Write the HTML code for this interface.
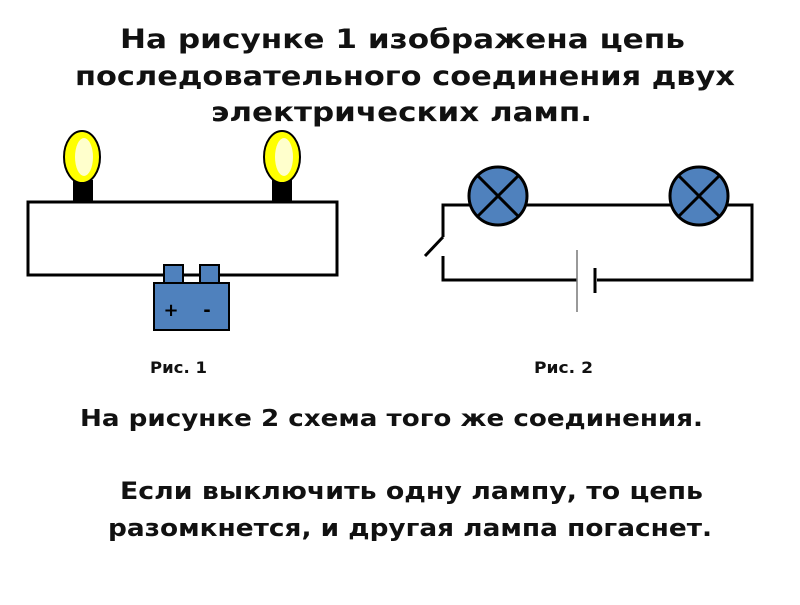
<!DOCTYPE html>
<html><head><meta charset="utf-8"><style>
body{margin:0;width:800px;height:600px;background:#fff;overflow:hidden;}
</style></head><body>
<svg width="800" height="600" xmlns="http://www.w3.org/2000/svg" font-family="DejaVu Sans, sans-serif" font-weight="bold">
<g font-size="27" fill="#111">
<text x="120" y="48" textLength="565" lengthAdjust="spacingAndGlyphs">На рисунке 1 изображена цепь</text>
<text x="75" y="85" textLength="660" lengthAdjust="spacingAndGlyphs">последовательного соединения двух</text>
<text x="211" y="121" textLength="381" lengthAdjust="spacingAndGlyphs">электрических ламп.</text>
</g>
<!-- fig1 -->
<rect x="28" y="202" width="309" height="73" fill="#fff" stroke="#000" stroke-width="3"/>
<rect x="73" y="180" width="20" height="23" fill="#000"/>
<rect x="272" y="180" width="20" height="23" fill="#000"/>
<ellipse cx="82" cy="157" rx="18" ry="26" fill="#ffff00" stroke="#000" stroke-width="2"/>
<ellipse cx="84" cy="157" rx="9" ry="19" fill="#ffffcc"/>
<ellipse cx="282" cy="157" rx="18" ry="26" fill="#ffff00" stroke="#000" stroke-width="2"/>
<ellipse cx="284" cy="157" rx="9" ry="19" fill="#ffffcc"/>
<rect x="164" y="265" width="19" height="18" fill="#4f81bd" stroke="#000" stroke-width="2"/>
<rect x="200" y="265" width="19" height="18" fill="#4f81bd" stroke="#000" stroke-width="2"/>
<rect x="154" y="283" width="75" height="47" fill="#4f81bd" stroke="#000" stroke-width="2"/>
<text x="171" y="316" font-size="18" text-anchor="middle">+</text>
<text x="207" y="316" font-size="18" text-anchor="middle">-</text>
<!-- fig2 -->
<g stroke="#000" stroke-width="3" fill="none">
<polyline points="443,237 443,205 752,205 752,280 597,280"/>
<polyline points="443,256 443,280 577,280"/>
<line x1="443" y1="237" x2="425" y2="256"/>
<line x1="595" y1="268" x2="595" y2="293"/>
</g>
<line x1="577" y1="250" x2="577" y2="312" stroke="#777" stroke-width="1.5"/>
<g stroke="#000" stroke-width="3" fill="#4f81bd">
<circle cx="498" cy="196" r="29"/>
<circle cx="699" cy="196" r="29"/>
</g>
<g stroke="#000" stroke-width="3">
<line x1="477" y1="175" x2="519" y2="217"/><line x1="519" y1="175" x2="477" y2="217"/>
<line x1="678" y1="175" x2="720" y2="217"/><line x1="720" y1="175" x2="678" y2="217"/>
</g>
<text x="150" y="373" font-size="16" fill="#111" textLength="57" lengthAdjust="spacingAndGlyphs">Рис. 1</text>
<text x="534" y="373" font-size="16" fill="#111" textLength="59" lengthAdjust="spacingAndGlyphs">Рис. 2</text>
<text x="80" y="426" font-size="23" fill="#111" textLength="623" lengthAdjust="spacingAndGlyphs">На рисунке 2 схема того же соединения.</text>
<g font-size="24" fill="#111">
<text x="120" y="499" textLength="583" lengthAdjust="spacingAndGlyphs">Если выключить одну лампу, то цепь</text>
<text x="108" y="536" textLength="604" lengthAdjust="spacingAndGlyphs">разомкнется, и другая лампа погаснет.</text>
</g>
</svg>
</body></html>
